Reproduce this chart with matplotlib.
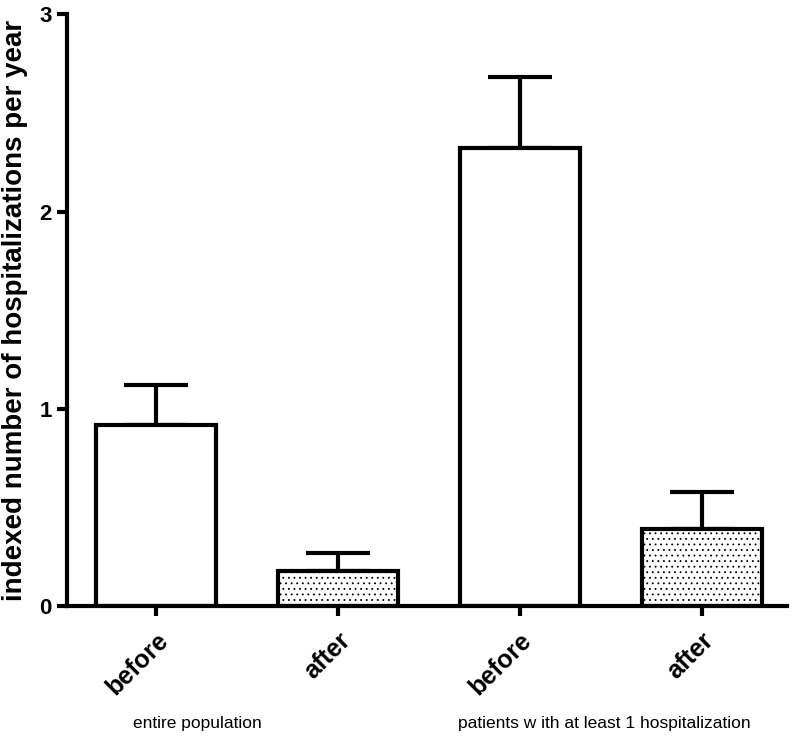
import numpy as np
import matplotlib.pyplot as plt

plt.rcParams['font.family'] = ['Liberation Sans', 'DejaVu Sans']
plt.rcParams['hatch.linewidth'] = 0.6

labels = ['before', 'after', 'before', 'after']
means = [0.92, 0.18, 2.32, 0.39]
upper_err = [0.20, 0.09, 0.36, 0.19]
hatches = ['', '...', '', '...']
groups = ['entire population', 'patients w ith at least 1 hospitalization']

x = np.arange(len(means))

fig = plt.figure(figsize=(7.95, 7.43), dpi=100)
ax = fig.add_axes([0.084, 0.184, 0.906, 0.797])

for xi, m, e, h in zip(x, means, upper_err, hatches):
    ax.errorbar(xi, m, yerr=[[0], [e]], fmt='none', ecolor='black',
                elinewidth=3, capsize=23, capthick=3, zorder=1)
    ax.bar(xi, m, width=0.66, facecolor='white', edgecolor='black',
           linewidth=3, hatch=h, zorder=2)

ax.set_xlim(-0.49, 3.47)
ax.set_ylim(0, 3)
ax.set_yticks([0, 1, 2, 3])
ax.set_xticks(x)
ax.set_xticklabels(labels, rotation=45, ha='right', rotation_mode='anchor',
                   fontsize=18, fontweight='bold')
for t in ax.get_yticklabels():
    t.set_fontsize(16)
    t.set_fontweight('bold')
ax.tick_params(width=3, length=7)
ax.tick_params(axis='x', pad=9)
ax.tick_params(axis='y', pad=4)
ax.spines['top'].set_visible(False)
ax.spines['right'].set_visible(False)
ax.spines['left'].set_linewidth(3)
ax.spines['bottom'].set_linewidth(3)
ax.set_ylabel('indexed number of hospitalizations per year', fontsize=20,
              fontweight='bold', labelpad=8)

fig.text(0.248, 0.026, groups[0], fontsize=12.5, ha='center', va='center')
fig.text(0.76, 0.026, groups[1], fontsize=12.5, ha='center', va='center')

fig.savefig('out.png', dpi=100)
